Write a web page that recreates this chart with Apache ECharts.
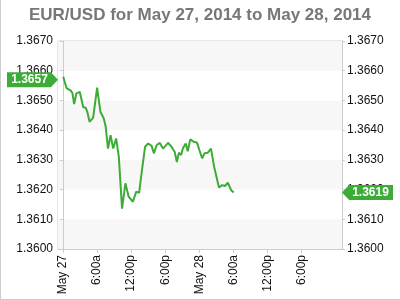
<!DOCTYPE html>
<html><head><meta charset="utf-8">
<script src="https://cdn.jsdelivr.net/npm/echarts@6/dist/echarts.min.js"></script>
<style>html,body{margin:0;padding:0;background:#fff}#c{width:400px;height:300px}</style>
</head><body><div id="c"></div>
<script>
// hours since May 27, 2014 00:00
const hours = [0.05,0.64,1.39,1.68,1.97,2.37,2.95,3.59,3.99,4.28,4.68,5.32,6.01,6.59,7.17,7.52,7.92,8.38,8.84,9.36,9.83,10.4,10.99,11.56,12.3,12.9,13.4,13.9,14.45,15.0,15.6,16.0,16.5,17.05,17.6,18.5,19.1,19.65,20.05,20.4,20.8,21.1,21.6,21.96,22.4,23.0,23.6,24.0,24.5,24.9,25.5,26.05,26.6,27.45,28.0,28.5,29.0,29.6,30.05];
const rates = [1.36580,1.36541,1.36533,1.36524,1.36488,1.36524,1.36529,1.36476,1.36476,1.36462,1.36428,1.36442,1.36543,1.36462,1.36440,1.36412,1.36338,1.36383,1.36338,1.36372,1.36310,1.36136,1.36221,1.36176,1.36159,1.36193,1.36189,1.36265,1.36344,1.36355,1.36347,1.36322,1.36350,1.36357,1.36338,1.36357,1.36344,1.36327,1.36293,1.36324,1.36316,1.36338,1.36355,1.36329,1.36369,1.36361,1.36358,1.36333,1.36305,1.36322,1.36324,1.36338,1.36277,1.36207,1.36215,1.36212,1.36223,1.36198,1.36190];
const tickHours = [0,6,12,18,24,30,36,42];
const tickLabels = ['May 27','6:00a','12:00p','6:00p','May 28','6:00a','12:00p','6:00p'];
const badgeValues = [1.3657, 1.3619];
const titleText = 'EUR/USD for May 27, 2014 to May 28, 2014';

const xMin = -0.87, xMax = 49.1;
const green = '#3cac37';
const chart = echarts.init(document.getElementById('c'), null, {renderer:'canvas'});
const yCommon = {
  type:'value', min:1.36, max:1.367, interval:0.001,
  axisLine:{show:true, lineStyle:{color:'#ccc'}},
  axisTick:{show:true, length:3, lineStyle:{color:'#ccc'}},
  splitLine:{show:false},
  axisLabel:{formatter:v=>v.toFixed(4), color:'#111', fontFamily:'Liberation Sans', fontSize:12, margin:5}
};
chart.setOption({
  animation:false,
  title:{text:titleText, left:'center', top:2, textStyle:{fontFamily:'Liberation Sans', fontSize:17, fontWeight:'bold', color:'#777'}},
  grid:{left:58, right:58, top:41, bottom:51, show:true, borderColor:'#ccc', borderWidth:1, backgroundColor:'transparent'},
  xAxis:{type:'value', min:xMin, max:xMax,
    axisLine:{show:true, lineStyle:{color:'#ccc'}},
    axisTick:{show:true, length:4, lineStyle:{color:'#ccc'}, customValues:tickHours},
    axisLabel:{customValues:tickHours, rotate:90, margin:6, color:'#111', fontFamily:'Liberation Sans', fontSize:12,
      formatter:v=>{const i=tickHours.indexOf(v); return i>=0?tickLabels[i]:'';}},
    splitLine:{show:false}},
  yAxis:[
    Object.assign({}, yCommon, {position:'left', splitArea:{show:true, areaStyle:{color:['#f7f7f7','#ffffff']}}}),
    Object.assign({}, yCommon, {position:'right', splitArea:{show:false}})
  ],
  series:[{
    type:'line', yAxisIndex:0, showSymbol:false, smooth:false,
    data:hours.map((h,i)=>[h,rates[i]]),
    lineStyle:{color:green, width:2}, itemStyle:{color:green},
    markPoint:{
      silent:true,
      data:[
        {coord:[xMin, badgeValues[0]], symbol:'path://M0,0 L43,0 L50,7 L43,14 L0,14 Z', symbolSize:[51,15], symbolOffset:[-25.5,0],
          itemStyle:{color:green}, label:{show:true, position:'inside', offset:[-3,0], formatter:badgeValues[0].toFixed(4), color:'#fff', fontWeight:'bold', fontSize:12, fontFamily:'Liberation Sans'}},
        {coord:[xMax, badgeValues[1]], symbol:'path://M7,0 L50,0 L50,14 L7,14 L0,7 Z', symbolSize:[51,15], symbolOffset:[25.5,0],
          itemStyle:{color:green}, label:{show:true, position:'inside', offset:[3,0], formatter:badgeValues[1].toFixed(4), color:'#fff', fontWeight:'bold', fontSize:12, fontFamily:'Liberation Sans'}}
      ]
    }
  }],
  graphic:[
    {type:'line', shape:{x1:0.5,y1:0,x2:0.5,y2:299.5}, style:{stroke:'#ccc', lineWidth:1}},
    {type:'line', shape:{x1:0,y1:299.5,x2:400,y2:299.5}, style:{stroke:'#ccc', lineWidth:1}},
    {type:'circle', shape:{cx:272, cy:239, r:6}, style:{fill:'#d8d8d8'}},
    {type:'text', left:282, top:231, style:{text:'OANDA', font:'300 15px "Liberation Sans"', fill:'#d4d4d4'}}
  ]
});
</script></body></html>
